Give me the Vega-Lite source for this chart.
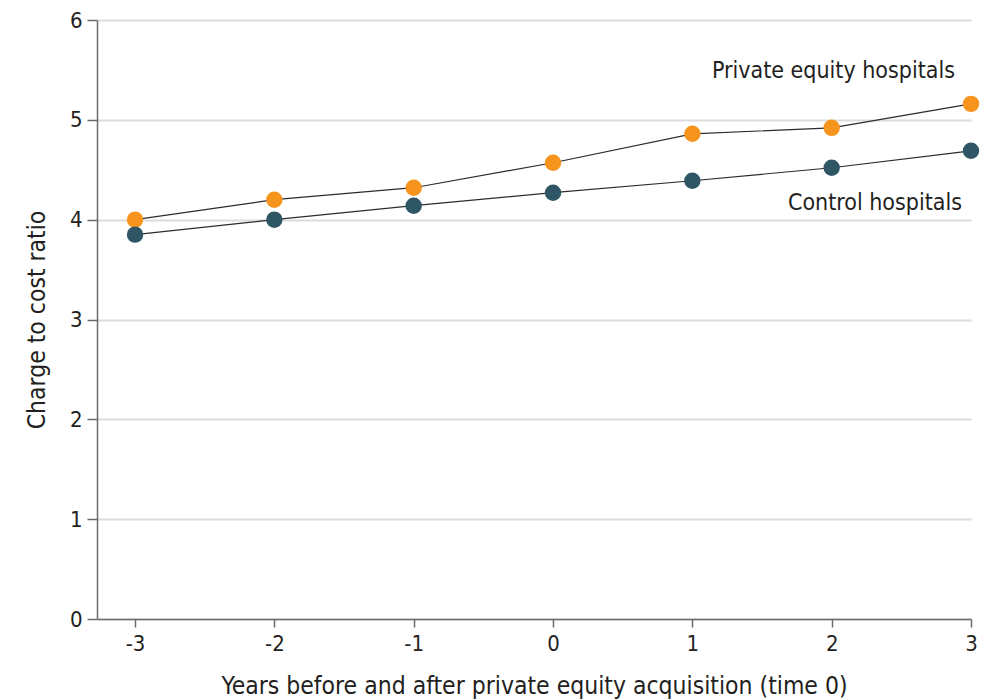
{
  "$schema": "https://vega.github.io/schema/vega-lite/v6.json",
  "autosize": "none",
  "width": 874,
  "height": 599,
  "padding": {"left": 97, "top": 20, "right": 15, "bottom": 81},
  "background": "white",
  "config": {
    "view": {"stroke": null},
    "font": "Liberation Sans Narrow, DejaVu Sans Condensed, Liberation Sans, sans-serif"
  },
  "datasets": {
    "series": [
      {"year": -3, "ratio": 4.0, "group": "Private equity hospitals"},
      {"year": -2, "ratio": 4.2, "group": "Private equity hospitals"},
      {"year": -1, "ratio": 4.32, "group": "Private equity hospitals"},
      {"year": 0, "ratio": 4.57, "group": "Private equity hospitals"},
      {"year": 1, "ratio": 4.86, "group": "Private equity hospitals"},
      {"year": 2, "ratio": 4.92, "group": "Private equity hospitals"},
      {"year": 3, "ratio": 5.16, "group": "Private equity hospitals"},
      {"year": -3, "ratio": 3.85, "group": "Control hospitals"},
      {"year": -2, "ratio": 4.0, "group": "Control hospitals"},
      {"year": -1, "ratio": 4.14, "group": "Control hospitals"},
      {"year": 0, "ratio": 4.27, "group": "Control hospitals"},
      {"year": 1, "ratio": 4.39, "group": "Control hospitals"},
      {"year": 2, "ratio": 4.52, "group": "Control hospitals"},
      {"year": 3, "ratio": 4.69, "group": "Control hospitals"}
    ],
    "labels": [
      {"year": 3, "ratio": 5.49, "label": "Private equity hospitals", "group": "Private equity hospitals"},
      {"year": 3, "ratio": 4.17, "label": "Control hospitals", "group": "Control hospitals"}
    ]
  },
  "encoding": {
    "x": {
      "field": "year", "type": "quantitative",
      "scale": {"domain": [-3.273, 3], "nice": false, "zero": false},
      "axis": {
        "title": "Years before and after private equity acquisition (time 0)",
        "values": [-3, -2, -1, 0, 1, 2, 3],
        "labelExpr": "'' + datum.value",
        "grid": false,
        "domainColor": "#6b6b6b", "domainWidth": 1.5,
        "tickColor": "#6b6b6b", "tickWidth": 1.5, "tickSize": 8,
        "labelFontSize": 22, "labelColor": "#231f20", "labelPadding": 6,
        "titleFontSize": 24.5, "titleFontWeight": "normal", "titleColor": "#231f20", "titlePadding": 20,
        "labelFlush": false
      }
    },
    "y": {
      "field": "ratio", "type": "quantitative",
      "scale": {"domain": [0, 6], "nice": false},
      "axis": {
        "title": "Charge to cost ratio",
        "values": [0, 1, 2, 3, 4, 5, 6],
        "grid": true, "gridColor": "#dcdcdc", "gridWidth": 2,
        "domainColor": "#6b6b6b", "domainWidth": 1.5,
        "tickColor": "#6b6b6b", "tickWidth": 1.5, "tickSize": 10,
        "labelFontSize": 22, "labelColor": "#231f20", "labelPadding": 5,
        "titleFontSize": 24.5, "titleFontWeight": "normal", "titleColor": "#231f20", "titlePadding": 20
      }
    }
  },
  "layer": [
    {
      "data": {"name": "series"},
      "mark": {"type": "line", "color": "#2b2b2b", "strokeWidth": 1.2},
      "encoding": {"detail": {"field": "group"}}
    },
    {
      "data": {"name": "series"},
      "mark": {"type": "circle", "size": 270, "opacity": 1},
      "encoding": {
        "color": {
          "field": "group", "type": "nominal",
          "scale": {"domain": ["Private equity hospitals", "Control hospitals"], "range": ["#f7941d", "#2e5664"]},
          "legend": null
        }
      }
    },
    {
      "data": {"name": "labels"},
      "transform": [{"filter": "datum.group == 'Private equity hospitals'"}],
      "mark": {"type": "text", "align": "right", "baseline": "middle", "fontSize": 23, "color": "#231f20", "dx": -16},
      "encoding": {"text": {"field": "label"}}
    },
    {
      "data": {"name": "labels"},
      "transform": [{"filter": "datum.group == 'Control hospitals'"}],
      "mark": {"type": "text", "align": "right", "baseline": "middle", "fontSize": 23, "color": "#231f20", "dx": -9},
      "encoding": {"text": {"field": "label"}}
    }
  ]
}
